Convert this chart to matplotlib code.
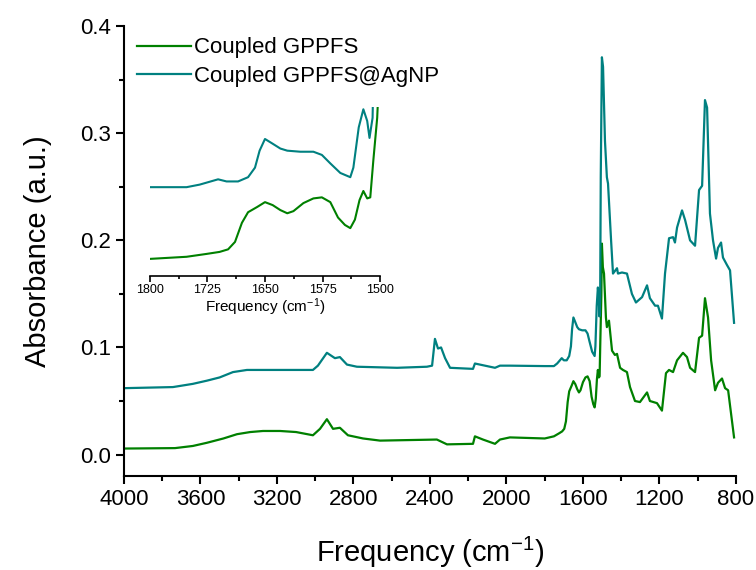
import matplotlib
matplotlib.use("Agg")
import matplotlib.pyplot as plt
from matplotlib.ticker import MultipleLocator

plt.rcParams["font.family"] = ["Liberation Sans", "DejaVu Sans"]
plt.rcParams["mathtext.fontset"] = "custom"
plt.rcParams["mathtext.rm"] = "Liberation Sans"
plt.rcParams["mathtext.it"] = "Liberation Sans"

# FTIR spectra (wavenumber in cm-1, absorbance)
wn_gppfs = [3995, 3733, 3640, 3566, 3480, 3409, 3340, 3273, 3184, 3100, 3012, 2975, 2939,
            2907, 2871, 2829, 2750, 2661, 2364, 2311, 2175, 2165, 2123, 2060, 2034, 1982,
            1800, 1752, 1726,
            1709, 1698, 1689, 1680, 1672, 1660, 1650, 1640, 1630, 1621, 1613, 1600,
            1587, 1576, 1565, 1555, 1546, 1539, 1533, 1527, 1522, 1517, 1513, 1509,
            1504, 1501, 1496, 1490, 1480, 1475, 1464, 1448, 1433, 1422, 1406, 1391,
            1370, 1354, 1328, 1302, 1265, 1250, 1213, 1187, 1166, 1150, 1129, 1108,
            1077, 1056, 1040, 1014, 993, 977, 962, 946, 930, 909, 894, 873, 857, 841, 810]
abs_gppfs = [0.0056, 0.006, 0.008, 0.011, 0.015, 0.019, 0.021, 0.022, 0.022, 0.021, 0.018, 0.024,
             0.033, 0.024, 0.025, 0.018, 0.015, 0.013, 0.014, 0.0095, 0.010, 0.017, 0.014, 0.010,
             0.014, 0.016, 0.015, 0.017, 0.0197,
             0.0216, 0.024, 0.031, 0.049, 0.059, 0.064, 0.0685, 0.0657, 0.061, 0.058, 0.060, 0.0676,
             0.072, 0.073, 0.0685, 0.054, 0.047, 0.044, 0.052, 0.0704, 0.079, 0.072, 0.073, 0.108,
             0.148, 0.197, 0.175, 0.169, 0.128, 0.119, 0.125, 0.097, 0.093, 0.094, 0.081, 0.079,
             0.077, 0.063, 0.050, 0.049, 0.058, 0.050, 0.048, 0.041, 0.076, 0.079, 0.077, 0.088,
             0.095, 0.091, 0.081, 0.077, 0.109, 0.111, 0.146, 0.128, 0.088, 0.060, 0.067, 0.071,
             0.062, 0.060, 0.016]

wn_agnp = [3995, 3744, 3640, 3566, 3500, 3430, 3357, 3184, 3012, 2986, 2939, 2897, 2871,
           2834, 2782, 2572, 2416, 2389, 2374, 2358, 2342, 2321, 2295, 2175, 2165, 2060,
           2034, 1982, 1800, 1752, 1735, 1711, 1700, 1685, 1672, 1663, 1657, 1650,
           1641, 1630, 1621, 1604, 1587, 1576, 1565, 1552, 1539, 1535, 1528, 1522,
           1517, 1514, 1510, 1507, 1501, 1495, 1485, 1475, 1469, 1453, 1443, 1422,
           1417, 1396, 1370, 1344, 1323, 1291, 1265, 1250, 1223, 1208, 1187, 1171,
           1150, 1129, 1119, 1108, 1082, 1066, 1040, 1014, 993, 977, 962, 951, 936,
           920, 904, 894, 878, 868, 847, 831, 810]
abs_agnp = [0.062, 0.063, 0.066, 0.069, 0.072, 0.077, 0.079, 0.079, 0.079, 0.083, 0.095, 0.090,
            0.091, 0.084, 0.082, 0.081, 0.082, 0.083, 0.108, 0.099, 0.100, 0.090, 0.081, 0.080,
            0.085, 0.081, 0.083, 0.083, 0.0826, 0.0826, 0.085, 0.090, 0.088, 0.088, 0.092, 0.101,
            0.117, 0.128,
            0.124, 0.119, 0.117, 0.116, 0.116, 0.113, 0.105, 0.096, 0.092, 0.101, 0.139, 0.156,
            0.145, 0.129, 0.148, 0.26, 0.371, 0.362, 0.293, 0.259, 0.253, 0.200, 0.169, 0.174,
            0.169, 0.170, 0.169, 0.150, 0.142, 0.147, 0.158, 0.146, 0.139, 0.139, 0.127, 0.169,
            0.202, 0.203, 0.198, 0.212, 0.228, 0.219, 0.200, 0.195, 0.247, 0.251, 0.331, 0.324, 0.225,
            0.200, 0.183, 0.193, 0.198, 0.184, 0.177, 0.172, 0.123]

labels = ["Coupled GPPFS", "Coupled GPPFS@AgNP"]
colors = ["#008000", "#008080"]

fig = plt.figure(figsize=(7.56, 5.70), dpi=100)
ax = fig.add_axes([0.164, 0.165, 0.8095, 0.789])

ax.plot(wn_gppfs, abs_gppfs, color=colors[0], lw=1.6, label=labels[0])
ax.plot(wn_agnp, abs_agnp, color=colors[1], lw=1.6, label=labels[1])

ax.set_xlim(4000, 800)
ax.set_ylim(-0.02, 0.4)
ax.xaxis.set_major_locator(MultipleLocator(400))
ax.xaxis.set_minor_locator(MultipleLocator(200))
ax.yaxis.set_major_locator(MultipleLocator(0.1))
ax.yaxis.set_minor_locator(MultipleLocator(0.05))
ax.yaxis.set_major_formatter(matplotlib.ticker.FormatStrFormatter("%.1f"))
for s in ["top", "right"]:
    ax.spines[s].set_visible(False)
for s in ["left", "bottom"]:
    ax.spines[s].set_linewidth(1.5)
ax.tick_params(which="major", direction="out", length=6, width=1.5, labelsize=16)
ax.tick_params(which="minor", direction="out", length=3.5, width=1.5)
ax.set_xlabel("Frequency (cm$^{-1}$)", fontsize=21, labelpad=18)
ax.set_ylabel("Absorbance (a.u.)", fontsize=21, labelpad=20)

ax.legend(loc="upper left", bbox_to_anchor=(0.0, 1.005), frameon=False, fontsize=16,
          handlelength=2.4, handletextpad=0.15, labelspacing=0.35, borderaxespad=0.2)

# =================================================================
# == inset: zoom on the amide region
# =================================================================
ins = fig.add_axes([0.198, 0.516, 0.305, 0.296])
ins.plot(wn_gppfs, abs_gppfs, color=colors[0], lw=1.5)
ins.plot(wn_agnp, abs_agnp, color=colors[1], lw=1.5)
ins.set_xlim(1800, 1500)
ins.set_ylim(-0.001, 0.158)
ins.xaxis.set_major_locator(MultipleLocator(75))
ins.xaxis.set_minor_locator(MultipleLocator(37.5))
ins.set_yticks([])
for s in ["top", "right", "left"]:
    ins.spines[s].set_visible(False)
ins.spines["bottom"].set_linewidth(1.2)
ins.patch.set_alpha(0)
ins.tick_params(which="major", direction="out", length=4, width=1.2, labelsize=9, pad=2)
ins.tick_params(which="minor", direction="out", length=2.5, width=1.2)
ins.set_xlabel("Frequency (cm$^{-1}$)", fontsize=11, labelpad=0)

fig.savefig("out.png", dpi=100)
